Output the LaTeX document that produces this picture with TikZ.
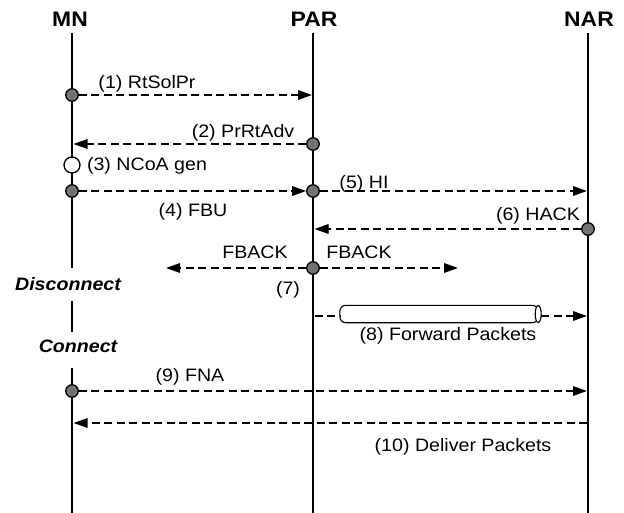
\documentclass[tikz,border=0pt]{standalone}
\usepackage{fontspec}
\setmainfont{Liberation Sans}[FakeStretch=1.09]
\usetikzlibrary{shapes.geometric, arrows.meta, positioning}

\begin{document}
\begin{tikzpicture}[
  x=1pt, y=-1pt,
  every node/.style={font=\fontsize{18}{20}\selectfont},
  head/.style={font=\fontsize{21}{23}\selectfont\bfseries},
  state/.style={font=\fontsize{18}{20}\selectfont\bfseries\itshape},
  life/.style={line width=2.8pt},
  msg/.style={line width=1.7pt, dash pattern=on 8pt off 4.5pt, -{Triangle[length=14pt,width=9.5pt]}},
  dot/.style={circle, draw=black, line width=1.3pt, fill=black!55, inner sep=0pt, minimum size=12.5pt},
  gen/.style={circle, draw=black, line width=1.3pt, fill=white, inner sep=0pt, minimum size=16pt},
  pipe/.style={rectangle, inner sep=0pt, minimum width=198pt, minimum height=17pt},
  pipeline/.style={draw=black, line width=1.1pt, fill=white}
]
\useasboundingbox (0,0) rectangle (624,513);

% Entities
\node[head] (mn) at (70,19) {MN};
\node[head] (par) at (314,19) {PAR};
\node[head] (nar) at (589,19) {NAR};

% Lifelines
\coordinate (mn0) at (72,33);
\coordinate (mn1) at (72,268);
\coordinate (mn2) at (72,301);
\coordinate (mn3) at (72,332);
\coordinate (mn4) at (72,368);
\coordinate (mn9) at (72,513);
\coordinate (par0) at (313,33);
\coordinate (par9) at (313,513);
\coordinate (nar0) at (588,33);
\coordinate (nar9) at (588,513);
\draw[life] (mn0) -- (mn1);
\draw[life] (mn2) -- (mn3);
\draw[life] (mn4) -- (mn9);
\draw[life] (par0) -- (par9);
\draw[life] (nar0) -- (nar9);

\node[state] (disc) at (68,284) {Disconnect};
\node[state] (conn) at (78,346) {Connect};

% Points on the lifelines
\node[dot] (d1) at (72,95) {};
\coordinate (p1) at (312,95);
\node[dot] (d2) at (313,144) {};
\coordinate (m2) at (73.5,144);
\node[gen] (d3) at (72,165) {};
\node[dot] (d4) at (72,191) {};
\node[dot] (d5) at (313,191) {};
\coordinate (n5) at (587,191);
\node[dot] (d6) at (588,229) {};
\coordinate (p6) at (314.5,229);
\node[dot] (d7) at (313,268) {};
\coordinate (l7) at (166,268);
\coordinate (r7) at (458,268);
\coordinate (p8) at (314.5,316);
\coordinate (n8) at (587,316);
\node[pipe] (pipe) at (439,314) {};
\node[dot] (d9) at (72,391) {};
\coordinate (n9) at (587,391);
\coordinate (n10) at (587,423);
\coordinate (m10) at (73.5,423);

% Forwarding tunnel
\draw[pipeline, rounded corners=6pt] (pipe.north east) -- (pipe.north west) -- (pipe.south west) -- (pipe.south east) -- cycle;
\draw[pipeline] (pipe.east) ellipse [x radius=3pt, y radius=8.5pt];

% Messages
\draw[msg] (d1) -- (p1);
\draw[msg] (d2) -- (m2);
\draw[msg] (d4) -- (d5);
\draw[msg] (d5) -- (n5);
\draw[msg] (d6) -- (p6);
\draw[msg] (d7) -- (l7);
\draw[msg] (d7) -- (r7);
\draw[msg, -] (p8) -- (pipe.west |- p8);
\draw[msg] ([xshift=3pt]pipe.east |- p8) -- (n8);
\draw[msg] (d9) -- (n9);
\draw[msg] (n10) -- (m10);

% Labels
\node (t1) at (147,84) {(1) RtSolPr};
\node (t2) at (243,133) {(2) PrRtAdv};
\node (t3) at (147,166) {(3) NCoA gen};
\node (t4) at (193,212) {(4) FBU};
\node (t5) at (364,184) {(5) HI};
\node (t6) at (538,216) {(6) HACK};
\node (t7l) at (255,252) {FBACK};
\node (t7r) at (359,252) {FBACK};
\node (t7) at (288,290) {(7)};
\node (t8) at (448,336) {(8) Forward Packets};
\node (t9) at (190,377) {(9) FNA};
\node (t10) at (463,447) {(10) Deliver Packets};

\end{tikzpicture}
\end{document}
